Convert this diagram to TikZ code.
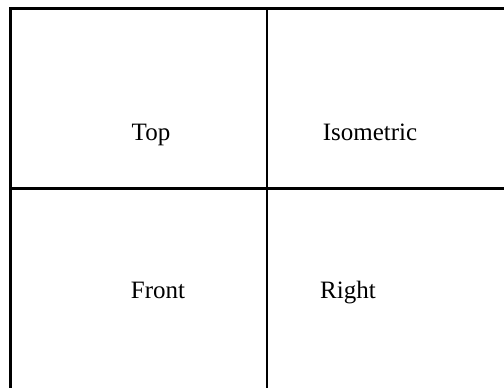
\documentclass[tikz,border=0pt]{standalone}
\usepackage{fontspec}
\setmainfont{Liberation Serif}
\begin{document}
\begin{tikzpicture}[x=1pt,y=-1pt,
  gridline/.style={line width=2.7pt, black},
  label/.style={font=\fontsize{25}{30}\selectfont, anchor=base, inner sep=0pt}]
\useasboundingbox[fill=white] (0,0) rectangle (504,388);
\coordinate (tl) at (10.5,8.7);
\coordinate (tr) at (504,8.7);
\coordinate (bl) at (10.5,388);
\coordinate (ml) at (10.5,188.5);
\coordinate (mr) at (504,188.5);
\coordinate (vt) at (267,8.7);
\coordinate (vb) at (267,388);
\draw[gridline] (tl) -- (tr);
\draw[gridline] ([yshift=1.35pt]tl) -- (bl);
\draw[gridline] (ml) -- (mr);
\draw[gridline] (vt) -- (vb);
\node[label] (top) at (151,140) {Top};
\node[label] (iso) at (370,140) {Isometric};
\node[label] (front) at (158,298) {Front};
\node[label] (right) at (348,298) {Right};
\end{tikzpicture}
\end{document}
